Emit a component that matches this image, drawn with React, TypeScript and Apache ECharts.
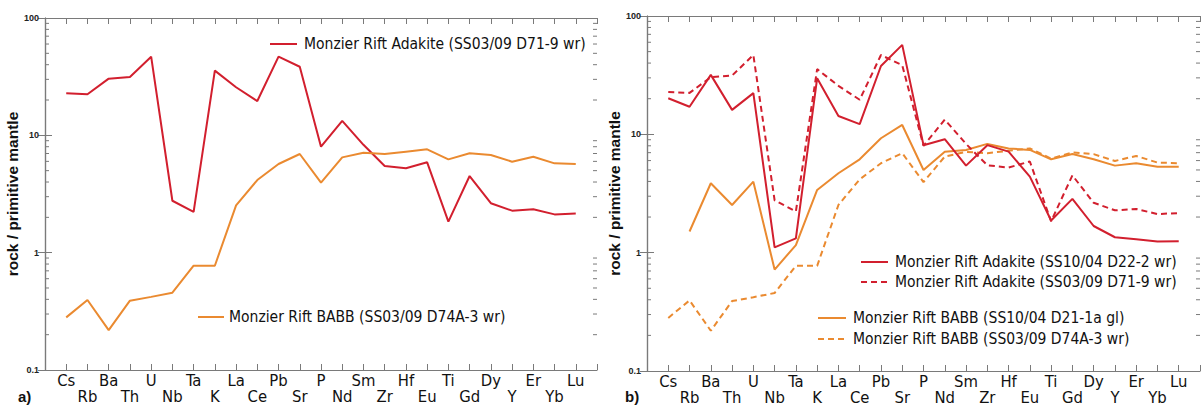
import React, { useEffect, useRef } from "react";
import * as echarts from "echarts";

const elements = ["Cs", "Rb", "Ba", "Th", "U", "Nb", "Ta", "K", "La", "Ce", "Pb", "Sr", "P", "Nd", "Sm", "Zr", "Hf", "Eu", "Ti", "Gd", "Dy", "Y", "Er", "Yb", "Lu"];

// Monzier Rift Adakite (SS03/09 D71-9 wr)
const adakiteD71 = [22.8, 22.4, 30.4, 31.4, 46.8, 2.77, 2.23, 35.6, 25.7, 19.6, 46.8, 38.4, 8.0, 13.3, 8.3, 5.48, 5.24, 5.89, 1.84, 4.5, 2.64, 2.28, 2.34, 2.12, 2.16];
// Monzier Rift BABB (SS03/09 D74A-3 wr)
const babbD74A = [0.281, 0.395, 0.219, 0.39, 0.42, 0.456, 0.774, 0.774, 2.53, 4.16, 5.7, 6.93, 3.95, 6.49, 7.11, 6.93, 7.26, 7.6, 6.24, 7.03, 6.8, 5.96, 6.57, 5.77, 5.7];
// Monzier Rift Adakite (SS10/04 D22-2 wr)
const adakiteD22 = [20.2, 17.1, 31.8, 16.1, 22.3, 1.11, 1.32, 29.8, 14.3, 12.2, 37.8, 57, 8.1, 9.1, 5.44, 8.1, 7.14, 4.39, 1.87, 2.85, 1.68, 1.35, 1.3, 1.24, 1.25];
// Monzier Rift BABB (SS10/04 D21-1a gl)
const babbD21 = [null, 1.51, 3.86, 2.53, 3.98, 0.72, 1.16, 3.39, 4.69, 6.15, 9.27, 12.0, 5.0, 7.14, 7.38, 8.3, 7.6, 7.38, 6.15, 6.83, 6.15, 5.44, 5.7, 5.33, 5.33];

const yTickLabels = ["0.1", "1", "10", "100"];
const minorTickValues = [0.2, 0.3, 0.4, 0.5, 0.6, 0.7, 0.8, 0.9, 2, 3, 4, 5, 6, 7, 8, 9, 20, 30, 40, 50, 60, 70, 80, 90];

const legendA = ["Monzier Rift Adakite (SS03/09 D71-9 wr)", "Monzier Rift BABB (SS03/09 D74A-3 wr)"];
const legendB = [
  "Monzier Rift Adakite (SS10/04 D22-2 wr)",
  "Monzier Rift Adakite (SS03/09 D71-9 wr)",
  "Monzier Rift BABB (SS10/04 D21-1a gl)",
  "Monzier Rift BABB (SS03/09 D74A-3 wr)",
];

const RED = "#d21f2e";
const ORANGE = "#ea8a30";
const AXIS = "#7a7a7a";
const TXT_FONT = "'DejaVu Sans Condensed', 'Liberation Sans Narrow', sans-serif";
const BOLD_FONT = "'Liberation Sans', Arial, sans-serif";
const LEG_SIZE = 15.5;

const toPairs = (arr: (number | null)[]) => arr.map((v, i) => [i + 1, v]);

export default function App() {
  const ref = useRef<HTMLDivElement>(null);
  useEffect(() => {
    if (!ref.current) return;
    const chart = echarts.init(ref.current, null, { renderer: "svg" });

    const xBottom = (gridIndex: number) => ({
      type: "value",
      gridIndex,
      min: 0,
      max: 26,
      interval: 1,
      position: "bottom",
      axisLine: { show: true, lineStyle: { color: AXIS, width: 1.2 } },
      axisTick: { show: true, inside: true, length: 6, lineStyle: { color: AXIS } },
      splitLine: { show: false },
      axisLabel: {
        show: true,
        margin: 2,
        fontFamily: TXT_FONT,
        fontSize: 16.5,
        lineHeight: 16,
        color: "#111",
        showMinLabel: true,
        showMaxLabel: true,
        formatter: (v: number) => {
          const i = Math.round(v) - 1;
          if (i < 0 || i >= elements.length) return "";
          return i % 2 === 0 ? elements[i] : "\n" + elements[i];
        },
      },
    });
    const xTop = (gridIndex: number) => ({
      type: "value",
      gridIndex,
      min: 0,
      max: 26,
      interval: 1,
      position: "top",
      axisLine: { show: true, lineStyle: { color: AXIS, width: 1.2 } },
      axisTick: { show: true, inside: true, length: 6, lineStyle: { color: AXIS } },
      splitLine: { show: false },
      axisLabel: { show: false },
    });
    const yLeft = (gridIndex: number) => ({
      type: "log",
      logBase: 10,
      gridIndex,
      min: 0.1,
      max: 100,
      position: "left",
      name: "rock / primitive mantle",
      nameLocation: "middle",
      nameGap: 18,
      nameTextStyle: { fontFamily: BOLD_FONT, fontWeight: "bold", fontSize: 15.5, color: "#111" },
      axisLine: { show: true, lineStyle: { color: AXIS, width: 1.2 } },
      axisTick: { show: true, inside: true, length: 7, lineStyle: { color: AXIS } },
      splitLine: { show: false },
      axisLabel: {
        margin: 6,
        fontFamily: BOLD_FONT,
        fontWeight: "bold",
        fontSize: 9,
        color: "#222",
        formatter: (v: number) => {
          const s = String(Number(v.toPrecision(3)));
          return yTickLabels.includes(s) ? s : "";
        },
      },
    });
    const yRight = (gridIndex: number) => ({
      type: "log",
      logBase: 10,
      gridIndex,
      min: 0.1,
      max: 100,
      position: "right",
      axisLine: { show: true, lineStyle: { color: AXIS, width: 1.2 } },
      axisTick: { show: true, inside: true, length: 7, lineStyle: { color: AXIS } },
      splitLine: { show: false },
      axisLabel: { show: false },
    });

    const minorTicks = (xAxisIndex: number, yAxisIndex: number) => ({
      type: "custom",
      xAxisIndex,
      yAxisIndex,
      silent: true,
      clip: false,
      z: 1,
      data: minorTickValues.map((v) => [0, v]),
      renderItem: (params: any, api: any) => {
        const v = api.value(1);
        const l = api.coord([0, v]);
        const r = api.coord([26, v]);
        return {
          type: "group",
          children: [
            { type: "line", shape: { x1: l[0], y1: l[1], x2: l[0] + 4, y2: l[1] }, style: { stroke: AXIS, lineWidth: 1 } },
            { type: "line", shape: { x1: r[0], y1: r[1], x2: r[0] - 4, y2: r[1] }, style: { stroke: AXIS, lineWidth: 1 } },
          ],
        };
      },
    });

    const line = (name: string, data: (number | null)[], color: string, dashed: boolean, xAxisIndex: number, yAxisIndex: number, z = 2) => ({
      type: "line",
      name,
      xAxisIndex,
      yAxisIndex,
      data: toPairs(data),
      showSymbol: false,
      symbol: "none",
      connectNulls: false,
      z,
      lineStyle: { color, width: 2, type: dashed ? [6, 4] : "solid" },
    });

    const legendLine = (x1: number, x2: number, y: number, color: string, dashed: boolean) => ({
      type: "line",
      shape: { x1, y1: y, x2, y2: y },
      style: { stroke: color, lineWidth: 2, lineDash: dashed ? [6, 4] : null },
    });
    const legendText = (x: number, y: number, text: string) => ({
      type: "text",
      x,
      y,
      style: { text, fontFamily: TXT_FONT, fontSize: LEG_SIZE, fill: "#111", verticalAlign: "middle", align: "left" },
    });

    chart.setOption({
      animation: false,
      backgroundColor: "#fff",
      grid: [
        { left: 45, top: 18, width: 552, height: 352 },
        { left: 647, top: 16, width: 558, height: 355 },
      ],
      xAxis: [xBottom(0), xTop(0), xBottom(1), xTop(1)],
      yAxis: [yLeft(0), yRight(0), yLeft(1), yRight(1)],
      series: [
        minorTicks(0, 0),
        minorTicks(2, 2),
        line(legendA[0], adakiteD71, RED, false, 0, 0),
        line(legendA[1], babbD74A, ORANGE, false, 0, 0),
        line(legendB[3], babbD74A, ORANGE, true, 2, 2),
        line(legendB[2], babbD21, ORANGE, false, 2, 2),
        line(legendB[1], adakiteD71, RED, true, 2, 2),
        line(legendB[0], adakiteD22, RED, false, 2, 2, 3),
      ],
      graphic: [
        legendLine(270, 297, 44, RED, false),
        legendText(304, 44, legendA[0]),
        legendLine(198, 224, 317, ORANGE, false),
        legendText(229, 317, legendA[1]),
        legendLine(861, 888, 262, RED, false),
        legendText(895, 262, legendB[0]),
        legendLine(861, 888, 282, RED, true),
        legendText(895, 282, legendB[1]),
        legendLine(818, 846, 318, ORANGE, false),
        legendText(853, 318, legendB[2]),
        legendLine(818, 846, 339, ORANGE, true),
        legendText(853, 339, legendB[3]),
        { type: "text", x: 18, y: 396, style: { text: "a)", fontFamily: BOLD_FONT, fontWeight: "bold", fontSize: 15, fill: "#111", verticalAlign: "middle" } },
        { type: "text", x: 625, y: 396, style: { text: "b)", fontFamily: BOLD_FONT, fontWeight: "bold", fontSize: 15, fill: "#111", verticalAlign: "middle" } },
      ],
    });
    return () => chart.dispose();
  }, []);
  return <div ref={ref} style={{ position: "absolute", left: 0, top: 0, width: 1203, height: 406 }} />;
}
